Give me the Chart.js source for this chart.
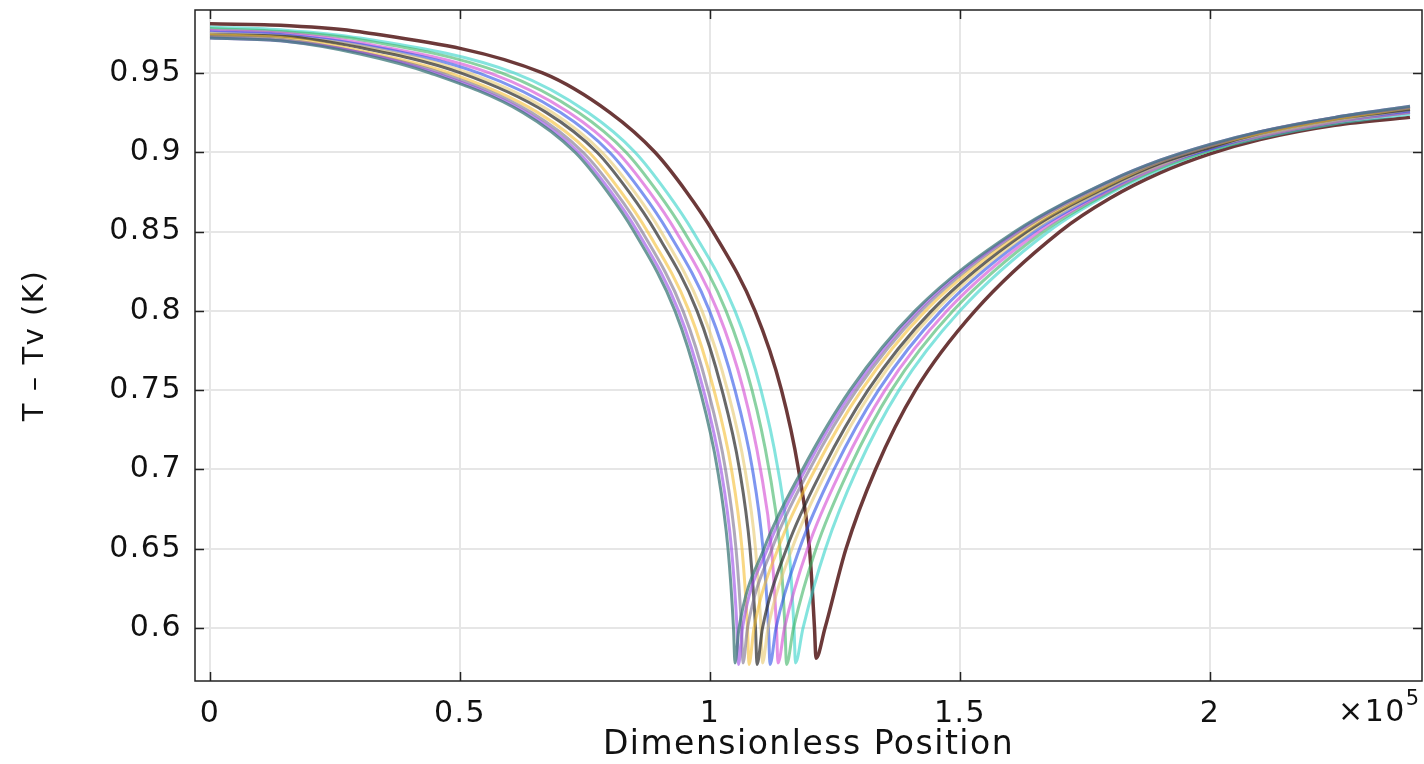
<!DOCTYPE html>
<html>
<head>
<meta charset="utf-8">
<script src="https://cdn.jsdelivr.net/npm/chart.js@4.4.1/dist/chart.umd.min.js"></script>
<style>
  html, body { margin: 0; padding: 0; background: #fff; }
  #wrap { width: 1424px; height: 764px; }
</style>
</head>
<body>
<div id="wrap"><canvas id="grafico"></canvas></div>
<script>
// axis ticks
const xTickVals = [0, 0.5, 1, 1.5, 2];
const yTickVals = [0.6, 0.65, 0.7, 0.75, 0.8, 0.85, 0.9, 0.95];

// flat start of every curve: y at these x (x in units of 1e5)
const flatX = [0, 0.15, 0.3];
const flatY = [
  [0.972, 0.970, 0.962],
  [0.972, 0.970, 0.963],
  [0.973, 0.971, 0.963],
  [0.974, 0.972, 0.964],
  [0.974, 0.973, 0.966],
  [0.975, 0.973, 0.967],
  [0.976, 0.974, 0.968],
  [0.977, 0.975, 0.969],
  [0.978, 0.976, 0.971],
  [0.979, 0.977, 0.972],
  [0.981, 0.980, 0.976]
];

// falling branch: x where each curve crosses these y levels
const leftLevels = [0.95, 0.925, 0.9, 0.875, 0.85, 0.8, 0.75, 0.7, 0.65, 0.6];
const leftX = [
  [0.440, 0.626, 0.730, 0.795, 0.848, 0.930, 0.980, 1.015, 1.036, 1.047],
  [0.450, 0.633, 0.737, 0.802, 0.855, 0.937, 0.987, 1.022, 1.043, 1.054],
  [0.462, 0.643, 0.746, 0.811, 0.864, 0.946, 0.996, 1.031, 1.052, 1.063],
  [0.479, 0.656, 0.758, 0.822, 0.875, 0.958, 1.008, 1.043, 1.064, 1.075],
  [0.501, 0.673, 0.774, 0.838, 0.891, 0.974, 1.024, 1.059, 1.080, 1.091],
  [0.517, 0.685, 0.784, 0.849, 0.902, 0.984, 1.035, 1.070, 1.091, 1.102],
  [0.537, 0.701, 0.799, 0.863, 0.916, 0.999, 1.050, 1.085, 1.106, 1.117],
  [0.559, 0.718, 0.815, 0.879, 0.932, 1.015, 1.067, 1.101, 1.123, 1.133],
  [0.583, 0.737, 0.832, 0.895, 0.948, 1.032, 1.084, 1.118, 1.140, 1.150],
  [0.608, 0.756, 0.850, 0.913, 0.966, 1.050, 1.102, 1.136, 1.158, 1.168],
  [0.665, 0.800, 0.890, 0.953, 1.006, 1.090, 1.143, 1.177, 1.199, 1.209]
];

// bottom of each dip
const minX = [1.050, 1.057, 1.066, 1.078, 1.094, 1.105, 1.120, 1.136, 1.153, 1.171, 1.212];
const minY = [0.578, 0.577, 0.578, 0.577, 0.577, 0.578, 0.577, 0.578, 0.577, 0.578, 0.581];

// rising branch: x where each curve crosses these y levels
const rightLevels = [0.6, 0.65, 0.7, 0.75, 0.8, 0.85];
const rightX = [
  [1.058, 1.108, 1.185, 1.280, 1.410, 1.610],
  [1.065, 1.115, 1.191, 1.286, 1.415, 1.614],
  [1.075, 1.124, 1.199, 1.293, 1.422, 1.619],
  [1.088, 1.136, 1.210, 1.303, 1.431, 1.626],
  [1.105, 1.153, 1.225, 1.316, 1.443, 1.634],
  [1.116, 1.164, 1.235, 1.325, 1.451, 1.641],
  [1.132, 1.179, 1.248, 1.337, 1.462, 1.649],
  [1.149, 1.195, 1.263, 1.350, 1.474, 1.658],
  [1.167, 1.212, 1.278, 1.363, 1.486, 1.667],
  [1.186, 1.231, 1.294, 1.378, 1.500, 1.677],
  [1.230, 1.272, 1.331, 1.411, 1.530, 1.700]
];

// tail of each curve: y at these x
const endX = [1.8, 1.9, 2.0, 2.1, 2.25, 2.4];
const endY = [
  [0.882, 0.895, 0.905, 0.913, 0.922, 0.929],
  [0.882, 0.895, 0.905, 0.913, 0.922, 0.929],
  [0.881, 0.894, 0.904, 0.913, 0.922, 0.928],
  [0.880, 0.894, 0.904, 0.912, 0.921, 0.928],
  [0.879, 0.893, 0.903, 0.912, 0.921, 0.927],
  [0.878, 0.892, 0.903, 0.911, 0.920, 0.927],
  [0.877, 0.892, 0.902, 0.911, 0.920, 0.926],
  [0.876, 0.891, 0.902, 0.910, 0.919, 0.925],
  [0.875, 0.890, 0.901, 0.910, 0.919, 0.925],
  [0.874, 0.889, 0.901, 0.909, 0.918, 0.924],
  [0.871, 0.887, 0.899, 0.908, 0.917, 0.922]
];

const cores = [
  'rgba(60,120,120,0.75)',
  'rgba(150,70,230,0.6)',
  'rgba(120,110,140,0.6)',
  'rgba(245,190,50,0.6)',
  'rgba(40,40,40,0.7)',
  'rgba(230,200,110,0.6)',
  'rgba(40,80,230,0.6)',
  'rgba(210,70,210,0.6)',
  'rgba(60,180,100,0.6)',
  'rgba(50,210,200,0.6)',
  'rgba(95,40,40,0.92)'
];

function montarPontos(k) {
  let pts = [];
  for (let i = 0; i < flatX.length; i++) pts.push({x: flatX[i], y: flatY[k][i]});
  for (let i = 0; i < leftLevels.length; i++) pts.push({x: leftX[k][i], y: leftLevels[i]});
  pts.push({x: minX[k], y: minY[k]});
  for (let i = 0; i < rightLevels.length; i++) pts.push({x: rightX[k][i], y: rightLevels[i]});
  for (let i = 0; i < endX.length; i++) pts.push({x: endX[i], y: endY[k][i]});
  return pts;
}

let datasets = [];
for (let k = 0; k < minX.length; k++) {
  datasets.push({
    data: montarPontos(k),
    borderColor: cores[k],
    borderWidth: k == minX.length - 1 ? 3.5 : 3,
    pointRadius: 0,
    cubicInterpolationMode: 'monotone',
    fill: false
  });
}

const fonte = 'DejaVu Sans';

// wider text spacing, like the reference
const espacamento = {
  id: 'espacamento',
  beforeDraw(chart) { chart.ctx.letterSpacing = '1.5px'; }
};

// ticks pointing inwards on all four sides, box border and the x10^5 mark
const moldura = {
  id: 'moldura',
  afterDraw(chart) {
    const {ctx, chartArea: a, scales} = chart;
    ctx.save();
    ctx.strokeStyle = '#222';
    ctx.lineWidth = 1.5;
    ctx.beginPath();
    xTickVals.forEach(v => {
      const px = Math.round(scales.x.getPixelForValue(v)) + 0.5;
      ctx.moveTo(px, a.bottom); ctx.lineTo(px, a.bottom - 9);
      ctx.moveTo(px, a.top); ctx.lineTo(px, a.top + 9);
    });
    yTickVals.forEach(v => {
      const py = Math.round(scales.y.getPixelForValue(v)) + 0.5;
      ctx.moveTo(a.left, py); ctx.lineTo(a.left + 9, py);
      ctx.moveTo(a.right, py); ctx.lineTo(a.right - 9, py);
    });
    ctx.stroke();
    ctx.strokeRect(a.left, a.top, a.right - a.left, a.bottom - a.top);

    ctx.fillStyle = '#111';
    ctx.textBaseline = 'middle';
    ctx.textAlign = 'left';
    ctx.font = '30px "' + fonte + '"';
    const yTxt = a.bottom + 32;
    const x0 = a.right - 84;
    ctx.fillText('\u00d710', x0, yTxt);
    const w = ctx.measureText('\u00d710').width;
    ctx.font = '21px "' + fonte + '"';
    ctx.fillText('5', x0 + w, yTxt - 13);
    ctx.restore();
  }
};

const ctx = document.getElementById('grafico').getContext('2d');
const myChart = new Chart(ctx, {
  type: 'line',
  data: { datasets: datasets },
  plugins: [espacamento, moldura],
  options: {
    responsive: true,
    maintainAspectRatio: false,
    animation: false,
    layout: { padding: { top: 10, right: 2, left: 0, bottom: 0 } },
    plugins: { legend: { display: false }, tooltip: { enabled: false } },
    scales: {
      x: {
        type: 'linear',
        min: -0.03,
        max: 2.424,
        afterBuildTicks: s => { s.ticks = xTickVals.map(v => ({value: v})); },
        afterFit: s => { s.height = 83; s.paddingLeft = 0; s.paddingRight = 0; },
        grid: { color: '#e6e6e6', lineWidth: 2, drawTicks: false },
        border: { display: false },
        ticks: {
          padding: 15,
          color: '#111',
          font: { family: fonte, size: 30 },
          callback: v => String(v)
        },
        title: {
          display: true,
          text: 'Dimensionless Position',
          color: '#111',
          font: { family: fonte, size: 33 },
          padding: { top: 0, bottom: -1 }
        }
      },
      y: {
        type: 'linear',
        min: 0.5666,
        max: 0.9897,
        afterBuildTicks: s => { s.ticks = yTickVals.map(v => ({value: v})); },
        afterFit: s => { s.width = 195; s.paddingTop = 0; s.paddingBottom = 0; },
        grid: { color: '#e6e6e6', lineWidth: 2, drawTicks: false },
        border: { display: false },
        ticks: {
          padding: 13,
          color: '#111',
          font: { family: fonte, size: 30 },
          callback: v => String(v)
        },
        title: {
          display: true,
          text: 'T \u2013 Tv (K)',
          color: '#111',
          font: { family: fonte, size: 29 },
          padding: { top: 18, bottom: 0 }
        }
      }
    }
  }
});
</script>
</body>
</html>
